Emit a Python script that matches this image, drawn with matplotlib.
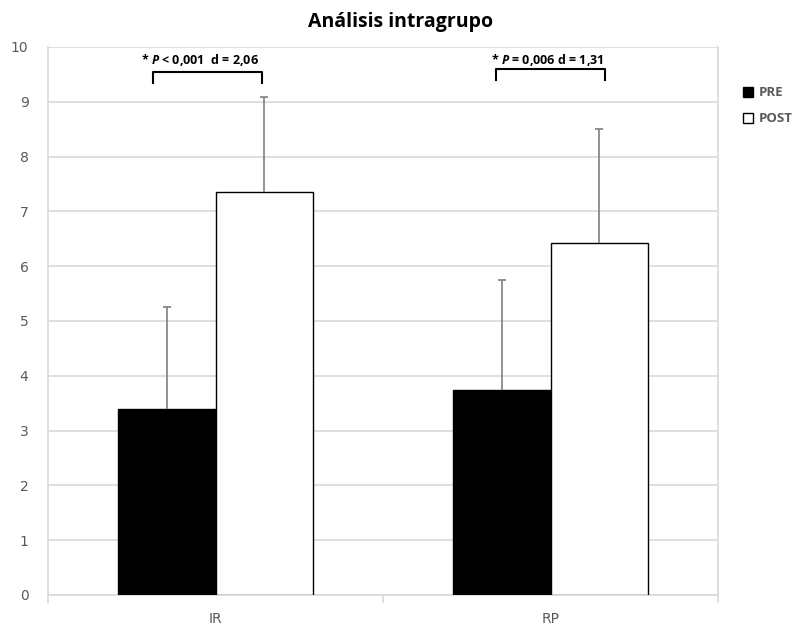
import matplotlib
matplotlib.use("Agg")
import matplotlib.pyplot as plt
import numpy as np
from matplotlib.patches import Rectangle

categories = ["IR", "RP"]
pre_means = [3.39, 3.74]
post_means = [7.35, 6.42]
pre_sd = [1.87, 2.01]
post_sd = [1.74, 2.08]
series_labels = ["PRE", "POST"]
yticks = list(range(0, 11))
title = "Análisis intragrupo"
annotations = ["* $P$ < 0,001  d = 2,06", "* $P$ = 0,006 d = 1,31"]

plt.rcParams["mathtext.fontset"] = "custom"
plt.rcParams["mathtext.it"] = "Open Sans:italic:bold"
plt.rcParams["mathtext.rm"] = "Open Sans:bold"

grid_c = "#d9d9d9"
text_c = "#595959"

fig = plt.figure(figsize=(7.96, 6.28), dpi=100)
ax = fig.add_axes([48 / 796, 33 / 628, 670 / 796, 548 / 628])

x = np.arange(len(categories))
w = 0.29
ax.bar(x - w / 2, pre_means, w, color="black", edgecolor="black", linewidth=1, zorder=3)
ax.bar(x + w / 2, post_means, w, color="white", edgecolor="black", linewidth=1, zorder=3)
for xs, means, sd in [(x - w / 2, pre_means, pre_sd), (x + w / 2, post_means, post_sd)]:
    eb = ax.errorbar(xs, means, yerr=[np.zeros(2), sd], fmt="none",
                     ecolor="#7f7f7f", elinewidth=1.2, capsize=3, capthick=1.2, zorder=4)
    # keep only the upper caps
    eb[1][0].set_visible(False)

ax.set_xlim(-0.5, 1.5)
ax.set_ylim(0, 10)
ax.set_yticks(yticks)
ax.yaxis.grid(True, color=grid_c, linewidth=1.2, zorder=0)
ax.set_axisbelow(True)
ax.tick_params(axis="y", length=0, pad=14, labelsize=10, labelcolor=text_c)
ax.set_xticks([-0.5, 0.5, 1.5], minor=False)
ax.set_xticklabels([])
ax.tick_params(axis="x", which="major", length=6, width=1.2, color=grid_c)
ax.set_xticks(x, minor=True)
ax.set_xticklabels(categories, minor=True)
ax.tick_params(axis="x", which="minor", length=0, pad=12, labelsize=10, labelcolor=text_c)
for s in ["left", "right", "bottom"]:
    ax.spines[s].set_color(grid_c)
    ax.spines[s].set_linewidth(1.2)
ax.spines["top"].set_visible(False)
for lab in ax.get_yticklabels():
    lab.set_horizontalalignment("right")

# significance brackets
brackets = [(-0.186, 0.140, 9.54, 9.34, -0.046, 9.77),
            (0.836, 1.162, 9.59, 9.40, 0.99, 9.77)]
for (x0, x1, ytop, ylo, tx, ty), txt in zip(brackets, annotations):
    ax.plot([x0, x0, x1, x1], [ylo, ytop, ytop, ylo], color="black", lw=1.5,
            clip_on=False, zorder=5)
    ax.text(tx, ty, txt, ha="center", va="center", fontsize=9,
            fontweight="bold", family="Open Sans", color="black")

fig.text(0.503, 0.965, title, ha="center", va="center", fontsize=14,
         fontweight="bold", family="Open Sans", color="black")

# legend
handles = [Rectangle((0, 0), 1, 1, facecolor="black", edgecolor="black"),
           Rectangle((0, 0), 1, 1, facecolor="white", edgecolor="black")]
leg = fig.legend(handles, series_labels, loc="upper left",
                 bbox_to_anchor=(738 / 796, 1 - 81 / 628), frameon=False,
                 handlelength=0.75, handleheight=0.75, handletextpad=0.4,
                 labelspacing=1.0, borderaxespad=0,
                 prop={"family": "Open Sans", "weight": "bold", "size": 9.5})
for t in leg.get_texts():
    t.set_color(text_c)

fig.savefig("out.png", dpi=100)
